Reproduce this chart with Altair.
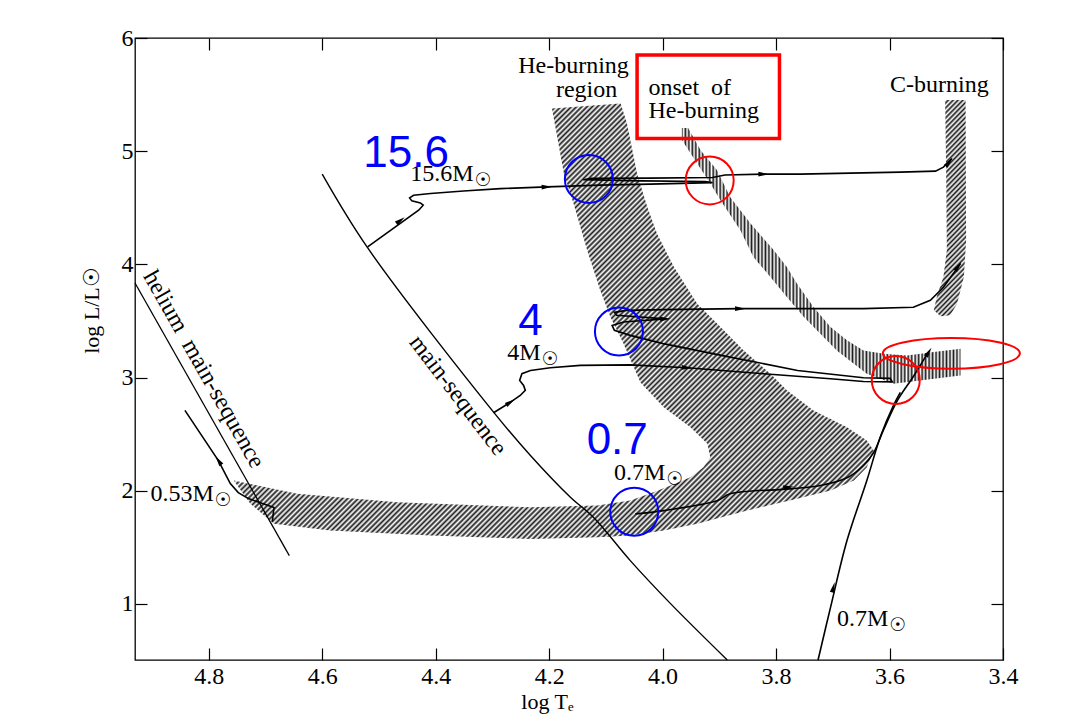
import altair as alt
import pandas as pd

# ---------------- axes ----------------
X_DOMAIN = [4.93, 3.4]
Y_DOMAIN = [0.505, 6.0]
X_TICKS = [4.8, 4.6, 4.4, 4.2, 4.0, 3.8, 3.6, 3.4]
Y_TICKS = [1, 2, 3, 4, 5, 6]

# ---------------- shaded regions (log Te, log L) ----------------
HE_REGION_X = [4.195, 4.074, 4.063, 4.045, 4.027, 4.010, 3.980, 3.939, 3.904, 3.857, 3.810, 3.781,
               3.734, 3.675, 3.640, 3.628, 3.640, 3.663, 3.704, 3.763, 3.851, 3.939, 3.998, 4.057,
               4.115, 4.233, 4.409, 4.586, 4.685, 4.727, 4.756, 4.644, 4.468, 4.233, 4.115, 4.057,
               4.016, 3.986, 3.951, 3.928, 3.916, 3.921, 3.951, 3.998, 4.039, 4.069, 4.092, 4.110,
               4.133, 4.157, 4.174]
HE_REGION_Y = [5.378, 5.422, 5.248, 4.803, 4.508, 4.273, 3.977, 3.653, 3.477, 3.240, 3.034, 2.887,
               2.710, 2.562, 2.444, 2.356, 2.208, 2.091, 2.002, 1.929, 1.825, 1.708, 1.648, 1.604,
               1.589, 1.575, 1.604, 1.648, 1.708, 1.887, 2.091, 1.973, 1.899, 1.854, 1.869, 1.914,
               1.987, 2.046, 2.120, 2.208, 2.297, 2.415, 2.562, 2.739, 2.957, 3.300, 3.535, 3.771,
               4.125, 4.538, 4.803]

ONSET_X = [3.966, 3.955, 3.933, 3.904, 3.881, 3.845, 3.804, 3.781, 3.763, 3.734, 3.704, 3.675,
           3.646, 3.610, 3.569, 3.522, 3.475, 3.475, 3.546, 3.593, 3.640, 3.663, 3.693, 3.722,
           3.751, 3.781, 3.810, 3.840, 3.863, 3.898, 3.916, 3.939, 3.966]
ONSET_Y = [5.204, 5.204, 5.009, 4.832, 4.596, 4.361, 4.125, 3.977, 3.830, 3.623, 3.446, 3.329,
           3.240, 3.211, 3.196, 3.225, 3.255, 3.019, 2.975, 2.946, 3.034, 3.123, 3.240, 3.388,
           3.535, 3.712, 3.889, 4.066, 4.302, 4.567, 4.715, 4.892, 5.098]

CBURN_X = [3.502, 3.466, 3.465, 3.469, 3.481, 3.493, 3.510, 3.522, 3.516, 3.505, 3.499, 3.500]
CBURN_Y = [5.452, 5.452, 4.213, 3.889, 3.653, 3.550, 3.541, 3.594, 3.727, 3.889, 4.125, 4.744]

# ---------------- sequences and tracks ----------------
MS_X = [4.600, 4.521, 4.298, 4.233, 4.1625, 4.122, 4.057, 3.986, 3.886]
MS_Y = [4.797, 4.154, 2.695, 2.312, 1.943, 1.766, 1.383, 1.003, 0.505]

HEMS_X = [4.930, 4.658]
HEMS_Y = [3.836, 1.427]

T156_X = [4.520, 4.430, 4.422, 4.427, 4.442, 4.446, 4.439, 4.409, 4.351, 4.286, 4.204, 4.110,
          4.022, 3.912, 3.925, 4.039, 4.140, 4.125, 4.022, 3.912, 3.890, 3.822, 3.757, 3.581,
          3.519, 3.505, 3.490]
T156_Y = [4.154, 4.479, 4.523, 4.543, 4.561, 4.587, 4.611, 4.626, 4.649, 4.669, 4.685, 4.700,
          4.709, 4.722, 4.732, 4.738, 4.748, 4.760, 4.762, 4.768, 4.790, 4.797, 4.797, 4.815,
          4.824, 4.859, 4.936]

T4_X = [4.298, 4.268, 4.251, 4.242, 4.245, 4.252, 4.248, 4.233, 4.198, 4.145, 4.057, 3.957,
        3.822, 3.704, 3.646, 3.595, 3.599, 3.646, 3.762, 3.881, 3.999, 4.057, 4.085, 4.089,
        4.069, 3.995, 4.081, 4.085, 4.064, 3.999, 3.863, 3.646, 3.558, 3.528, 3.505, 3.475]
T4_Y = [2.689, 2.783, 2.842, 2.887, 2.931, 2.975, 3.034, 3.063, 3.087, 3.108, 3.112, 3.087,
        3.034, 2.990, 2.966, 2.962, 2.993, 2.999, 3.063, 3.181, 3.300, 3.373, 3.417, 3.461,
        3.491, 3.519, 3.550, 3.576, 3.594, 3.600, 3.609, 3.609, 3.621, 3.683, 3.798, 4.007]

T07_RGB_X = [3.726, 3.704, 3.675, 3.640, 3.616, 3.593, 3.581]
T07_RGB_Y = [0.505, 0.970, 1.560, 2.091, 2.480, 2.754, 2.869]

T07_HB_X = [4.048, 3.998, 3.903, 3.881, 3.775, 3.722, 3.674, 3.646, 3.628, 3.611, 3.586, 3.558, 3.532]
T07_HB_Y = [1.796, 1.825, 1.914, 1.973, 2.017, 2.046, 2.117, 2.223, 2.338, 2.533, 2.798, 3.010, 3.223]

T053_X = [4.688, 4.685, 4.705, 4.730, 4.748, 4.762, 4.783, 4.842]
T053_Y = [1.728, 1.852, 1.887, 1.931, 1.984, 2.064, 2.267, 2.710]

ARROW_X = [4.783, 4.462, 4.204, 3.822, 3.495, 4.268, 3.957, 3.863, 3.479, 3.995, 3.699, 3.778, 3.531]
ARROW_Y = [2.267, 4.390, 4.685, 4.797, 4.903, 2.783, 3.087, 3.609, 3.983, 3.519, 1.147, 2.031, 3.225]
ARROW_ANGLE = [326, 54, 88, 90, 40, 58, 93, 90, 36, 88, 14, 85, 32]

# ---------------- labels ----------------
MASS_TEXT = ["15.6M", "4M", "0.7M", "0.53M", "0.7M"]
MASS_X = [4.333, 4.215, 3.995, 4.791, 3.602]
MASS_Y = [4.738, 3.158, 2.091, 1.907, 0.808]

CENTER_TEXT = ["He-burning", "region"]
CENTER_X = [4.157, 4.134]
CENTER_Y = [5.693, 5.481]

LEFT_TEXT = ["onset\u00a0 of", "He-burning", "C-burning"]
LEFT_X = [4.025, 4.025, 3.599]
LEFT_Y = [5.496, 5.290, 5.525]

BLUE_TEXT = ["15.6", "4", "0.7"]
BLUE_X = [4.452, 4.233, 4.080]
BLUE_Y = [4.862, 3.373, 2.327]

BLUE_CIRCLE_X = [4.130, 4.077, 4.050]
BLUE_CIRCLE_Y = [4.755, 3.407, 1.815]
RED_CIRCLE_X = [3.917, 3.589]
RED_CIRCLE_Y = [4.742, 2.979]
RED_ELLIPSE_X = [3.491]
RED_ELLIPSE_Y = [3.214]
RED_BOX = {"x": [4.045], "x2": [3.794], "y": [5.850], "y2": [5.113]}

SERIF = "Liberation Serif"
SANS = "Liberation Sans"

XS = alt.Scale(domain=X_DOMAIN, nice=False, zero=False)
YS = alt.Scale(domain=Y_DOMAIN, nice=False, zero=False)


def X(field="x", axis=None):
    if axis is None:
        return alt.X(field, type="quantitative", scale=XS, axis=None)
    return alt.X(field, type="quantitative", scale=XS, axis=axis)


def Y(field="y", axis=None):
    if axis is None:
        return alt.Y(field, type="quantitative", scale=YS, axis=None)
    return alt.Y(field, type="quantitative", scale=YS, axis=axis)


def pts(xs, ys, **extra):
    d = {"x": xs, "y": ys, "i": list(range(len(xs)))}
    d.update(extra)
    return pd.DataFrame(d)


def stripes(n, x2, y2, dark="#1c1c1c", light="#ffffff"):
    stops = []
    for k in range(n):
        stops.append(alt.GradientStop(color=dark, offset=k / n))
        stops.append(alt.GradientStop(color=light, offset=(k + 0.5) / n))
    stops.append(alt.GradientStop(color=dark, offset=1.0))
    return alt.LinearGradient(gradient="linear", stops=stops, x1=0, y1=0, x2=x2, y2=y2)


AX_BOTTOM = alt.Axis(orient="bottom", values=X_TICKS, format=".1f", offset=-12, tickSize=12,
                     tickColor="black", tickWidth=1.2, domain=False, grid=False,
                     labelFont=SERIF, labelFontSize=24, labelColor="black", labelPadding=4,
                     labelFlush=False, labelOverlap=False,
                     title="log T\u2091", titleFont=SERIF, titleFontSize=22, titleFontWeight="normal",
                     titleColor="black", titleX=412, titleY=53, titleAlign="center",
                     titleBaseline="middle")
AX_LEFT = alt.Axis(orient="left", values=Y_TICKS, format="d", offset=-12, tickSize=12,
                   tickColor="black", tickWidth=1.2, domain=False, grid=False,
                   labelFont=SERIF, labelFontSize=24, labelColor="black", labelPadding=2,
                   labelFlush=False, labelOverlap=False,
                   title="log L/L\u2609", titleFont=SERIF, titleFontSize=22, titleFontWeight="normal",
                   titleColor="black", titleAngle=270, titleX=-56, titleY=272, titleAlign="center",
                   titleBaseline="middle")
AX_TOP = alt.Axis(orient="top", values=X_TICKS, labels=False, offset=-12, tickSize=12,
                  tickColor="black", tickWidth=1.2, domain=False, grid=False, title="")
AX_RIGHT = alt.Axis(orient="right", values=Y_TICKS, labels=False, offset=-12, tickSize=12,
                    tickColor="black", tickWidth=1.2, domain=False, grid=False, title="")

layers = []

# hatched regions
layers.append(alt.Chart(pts(HE_REGION_X, HE_REGION_Y)).mark_line(
    fill=stripes(205, 1.149, 0.781), strokeWidth=0).encode(
    x=X("x", AX_BOTTOM), y=Y("y", AX_LEFT), order="i:Q"))
layers.append(alt.Chart(pts(ONSET_X, ONSET_Y)).mark_line(
    fill=stripes(80, 1, 0), strokeWidth=0).encode(
    x=X("x", AX_TOP), y=Y("y", AX_RIGHT), order="i:Q"))
layers.append(alt.Chart(pts(CBURN_X, CBURN_Y)).mark_line(
    fill=stripes(50, 0.1724, 1.1266), strokeWidth=0).encode(
    x=X(), y=Y(), order="i:Q"))

# sequences
layers.append(alt.Chart(pts(MS_X, MS_Y)).mark_line(
    color="black", strokeWidth=1.4, interpolate="catmull-rom").encode(x=X(), y=Y(), order="i:Q"))
layers.append(alt.Chart(pts(HEMS_X, HEMS_Y)).mark_line(
    color="black", strokeWidth=1.3).encode(x=X(), y=Y(), order="i:Q"))

# tracks
for tx, ty, interp in [(T156_X, T156_Y, "linear"), (T4_X, T4_Y, "linear"),
                       (T07_RGB_X, T07_RGB_Y, "catmull-rom"), (T07_HB_X, T07_HB_Y, "catmull-rom"),
                       (T053_X, T053_Y, "linear")]:
    layers.append(alt.Chart(pts(tx, ty)).mark_line(
        color="black", strokeWidth=1.6, interpolate=interp).encode(x=X(), y=Y(), order="i:Q"))

# arrowheads
layers.append(alt.Chart(pts(ARROW_X, ARROW_Y, a=ARROW_ANGLE)).mark_point(
    shape="M0,-1L0.45,1L-0.45,1Z", filled=True, color="black", opacity=1, size=110).encode(
    x=X(), y=Y(), angle=alt.Angle("a", type="quantitative", scale=None)))

# black labels
layers.append(alt.Chart(pts(MASS_X, MASS_Y, t=MASS_TEXT)).mark_text(
    font=SERIF, fontSize=24, align="right", baseline="alphabetic", color="black").encode(
    x=X(), y=Y(), text="t:N"))
layers.append(alt.Chart(pts(MASS_X, MASS_Y, t=["\u2609"] * len(MASS_X))).mark_text(
    font="DejaVu Sans", fontSize=19, align="left", baseline="alphabetic", dx=1, dy=5,
    color="black").encode(x=X(), y=Y(), text="t:N"))
layers.append(alt.Chart(pts(CENTER_X, CENTER_Y, t=CENTER_TEXT)).mark_text(
    font=SERIF, fontSize=24, align="center", baseline="alphabetic", color="black").encode(
    x=X(), y=Y(), text="t:N"))
layers.append(alt.Chart(pts(LEFT_X, LEFT_Y, t=LEFT_TEXT)).mark_text(
    font=SERIF, fontSize=24, align="left", baseline="alphabetic", color="black").encode(
    x=X(), y=Y(), text="t:N"))
layers.append(alt.Chart(pts([4.809], [3.072], t=["helium\u00a0 main-sequence"])).mark_text(
    font=SERIF, fontSize=24, align="center", baseline="middle", angle=60.5, color="black").encode(
    x=X(), y=Y(), text="t:N"))
layers.append(alt.Chart(pts([4.361], [2.842], t=["main-sequence"])).mark_text(
    font=SERIF, fontSize=24, align="center", baseline="middle", angle=52.6, color="black").encode(
    x=X(), y=Y(), text="t:N"))

# annotations
layers.append(alt.Chart(pd.DataFrame(RED_BOX)).mark_rect(
    fill="transparent", stroke="#ff0000", strokeWidth=3.5).encode(
    x=X("x"), x2="x2", y=Y("y"), y2="y2"))
layers.append(alt.Chart(pts(RED_CIRCLE_X, RED_CIRCLE_Y)).mark_point(
    shape="circle", size=2304, filled=False, color="#ff0000", strokeWidth=2, opacity=1).encode(
    x=X(), y=Y()))
layers.append(alt.Chart(pts(RED_ELLIPSE_X, RED_ELLIPSE_Y)).mark_point(
    shape="M-1,0A1,0.223,0,1,1,1,0A1,0.223,0,1,1,-1,0Z", size=18769, filled=False,
    color="#ff0000", strokeWidth=2, opacity=1).encode(x=X(), y=Y()))
layers.append(alt.Chart(pts(BLUE_CIRCLE_X, BLUE_CIRCLE_Y)).mark_point(
    shape="circle", size=2304, filled=False, color="#0000ff", strokeWidth=2, opacity=1).encode(
    x=X(), y=Y()))
layers.append(alt.Chart(pts(BLUE_X, BLUE_Y, t=BLUE_TEXT)).mark_text(
    font=SANS, fontSize=44, align="center", baseline="alphabetic", color="#0000ff").encode(
    x=X(), y=Y(), text="t:N"))

chart = alt.layer(*layers).properties(
    width=868, height=622,
    padding={"left": 127, "top": 30, "right": 60, "bottom": 55},
    autosize=alt.AutoSizeParams(type="none"),
    background="white",
).configure_view(stroke="black", strokeWidth=1.3)

chart.save("out.html", embed_options={"renderer": "svg", "actions": False})
